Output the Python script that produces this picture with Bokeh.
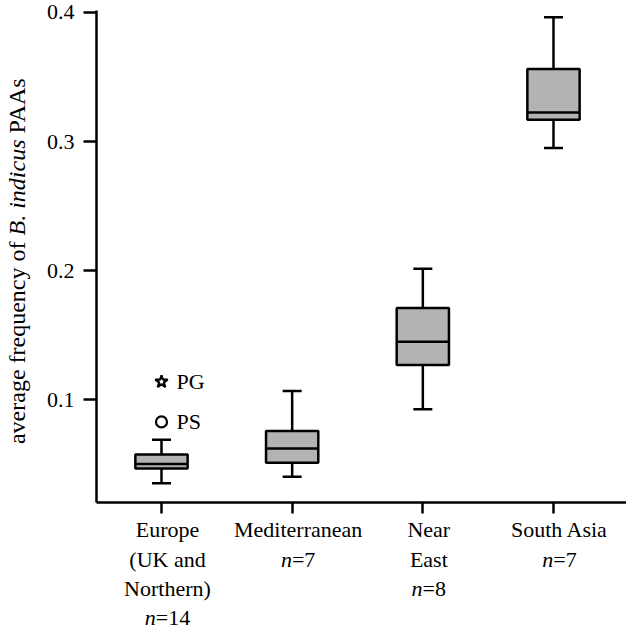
import math
from bokeh.plotting import figure
from bokeh.layouts import row, column
from bokeh.models import Range1d, FixedTicker, ColumnDataSource
from bokeh.core.properties import value
from bokeh.embed import file_html
from bokeh.resources import INLINE

# ---------------- data ----------------
positions = [1, 2, 3, 4]
label_lines = [["Europe", "(UK and", "Northern)"], ["Mediterranean"], ["Near", "East"], ["South Asia"]]
n_counts = [14, 7, 8, 7]
whisker_low = [0.0355, 0.0406, 0.0928, 0.2950]
q1 = [0.0470, 0.0514, 0.1270, 0.3169]
median = [0.0504, 0.0624, 0.1450, 0.3226]
q3 = [0.0578, 0.0759, 0.1712, 0.3563]
whisker_high = [0.0692, 0.1069, 0.2015, 0.3963]
outlier_pos = [1, 1]
outlier_val = [0.1141, 0.0830]
outlier_names = ["PG", "PS"]
outlier_markers = ["star", "circle"]
y_ticks = [0.1, 0.2, 0.3, 0.4]

# ---------------- layout ----------------
W, H = 626, 631
LEFT_W = 32                 # strip holding the y-axis title
MAIN_W = W - LEFT_W
FRAME_L = 96 - LEFT_W       # frame left inside main figure
FT = 10
FB = 502
MAIN_H = FB + 16
BOT_H = H - MAIN_H
x0, x1 = 0.5026, 4.5587
y0, y1 = 0.0206, 0.4015
FONT = "Liberation Serif"
fs = 22
FS = f"{fs}px"
BOX_W = 0.4
LW = 2.5
px_per_x = (MAIN_W - FRAME_L) / (x1 - x0)

xr = Range1d(x0, x1)

# ---------------- main plot ----------------
p = figure(width=MAIN_W, height=MAIN_H, output_backend="svg", toolbar_location=None,
           x_range=xr, y_range=Range1d(y0, y1),
           min_border_left=FRAME_L, min_border_top=FT, min_border_bottom=MAIN_H - FB,
           min_border_right=0, title=None)
p.background_fill_color = "white"
p.border_fill_color = "white"
p.outline_line_color = None
p.xgrid.visible = False
p.ygrid.visible = False

for ax in (p.xaxis[0], p.yaxis[0]):
    ax.axis_line_width = LW
    ax.axis_line_color = "black"
    ax.major_tick_line_width = LW
    ax.major_tick_line_color = "black"
    ax.minor_tick_line_color = None
    ax.major_tick_in = 0
p.yaxis.major_tick_out = 13
p.xaxis.major_tick_out = 11
p.yaxis.ticker = FixedTicker(ticks=y_ticks)
p.xaxis.ticker = FixedTicker(ticks=positions)
p.xaxis.major_label_overrides = {pos: "" for pos in positions}
p.xaxis.major_label_text_font_size = "1px"
p.xaxis.major_label_standoff = 0
p.yaxis.major_label_text_font = FONT
p.yaxis.major_label_text_font_size = FS
p.yaxis.major_label_text_color = "black"
p.yaxis.major_label_standoff = 9

src = ColumnDataSource(dict(pos=positions, lo=whisker_low, q1=q1, med=median, q3=q3, hi=whisker_high,
                            ml=[x - BOX_W / 2 for x in positions], mr=[x + BOX_W / 2 for x in positions]))
p.segment(x0="pos", y0="lo", x1="pos", y1="q1", source=src, line_color="black", line_width=LW)
p.segment(x0="pos", y0="q3", x1="pos", y1="hi", source=src, line_color="black", line_width=LW)
p.scatter(x="pos", y="lo", source=src, marker="dash", size=19, line_color="black", line_width=LW)
p.scatter(x="pos", y="hi", source=src, marker="dash", size=19, line_color="black", line_width=LW)
p.vbar(x="pos", width=BOX_W, bottom="q1", top="q3", source=src,
       fill_color="#b3b3b3", line_color="black", line_width=LW)
p.segment(x0="ml", y0="med", x1="mr", y1="med", source=src, line_color="black", line_width=LW)

osrc = ColumnDataSource(dict(x=outlier_pos, y=outlier_val, name=outlier_names,
                             marker=outlier_markers, size=[13, 11]))
p.scatter(x="x", y="y", marker="marker", size="size", source=osrc,
          fill_color="white", line_color="black", line_width=2.2)
p.text(x="x", y="y", text="name", source=osrc, x_offset=15, text_baseline="middle",
       text_align="left", text_font=value(FONT), text_font_size=value(FS), text_color="black")

# ---------------- category labels strip ----------------
b = figure(width=MAIN_W, height=BOT_H, output_backend="svg", toolbar_location=None,
           x_range=xr, y_range=Range1d(0, BOT_H), x_axis_location=None, y_axis_location=None,
           min_border_left=FRAME_L, min_border_right=0, min_border_top=0, min_border_bottom=0,
           title=None)
b.outline_line_color = None
b.grid.visible = False
b.background_fill_color = "white"
b.border_fill_color = "white"

line_y = [529, 558.5, 588, 617]   # image rows of the text lines
reg_x, reg_y, reg_t, reg_a = [], [], [], []
it_x, it_y, it_t = [], [], []
for pos, lines, n in zip(positions, label_lines, n_counts):
    cx = pos + 6 / px_per_x
    for i, t in enumerate(lines):
        reg_x.append(cx); reg_y.append(H - line_y[i]); reg_t.append(t); reg_a.append("center")
    w_n = 0.5 * fs
    w_rest = (0.564 + 0.5 * len(str(n))) * fs
    anchor = cx + (-(w_n + w_rest) / 2 + w_n) / px_per_x
    yy = H - line_y[len(lines)]
    it_x.append(anchor); it_y.append(yy); it_t.append("n")
    reg_x.append(anchor); reg_y.append(yy); reg_t.append("=" + str(n)); reg_a.append("left")

b.text(x=reg_x, y=reg_y, text=reg_t, text_align=reg_a, text_baseline="middle",
       text_font=value(FONT), text_font_size=value(FS), text_color="black")
b.text(x=it_x, y=it_y, text=it_t, text_align="right", text_baseline="middle",
       text_font=value(FONT), text_font_size=value(FS), text_font_style="italic", text_color="black")

# ---------------- y-axis title strip ----------------
afs = 24
space_w = 0.25 * afs
l = figure(width=LEFT_W, height=H, output_backend="svg", toolbar_location=None,
           x_range=Range1d(0, LEFT_W), y_range=Range1d(0, H),
           x_axis_location=None, y_axis_location=None,
           min_border=0, title=None)
l.outline_line_color = None
l.grid.visible = False
l.background_fill_color = "white"
l.border_fill_color = "white"
title_x = 16
anchor_y = H - 235
ital_w = 4.0 * afs
l.text(x=[title_x], y=[anchor_y - space_w], text=["average frequency of"], angle=math.pi / 2,
       text_align="right", text_baseline="middle", text_font=value(FONT),
       text_font_size=value(f"{afs}px"), text_color="black")
l.text(x=[title_x], y=[anchor_y], text=["B. indicus"], angle=math.pi / 2,
       text_align="left", text_baseline="middle", text_font=value(FONT),
       text_font_style="italic", text_font_size=value(f"{afs}px"), text_color="black")
l.text(x=[title_x], y=[anchor_y + ital_w + space_w], text=["PAAs"], angle=math.pi / 2,
       text_align="left", text_baseline="middle", text_font=value(FONT),
       text_font_size=value(f"{afs}px"), text_color="black")

layout = row(l, column(p, b, spacing=0), spacing=0)
open("out.html", "w").write(file_html(layout, INLINE))
